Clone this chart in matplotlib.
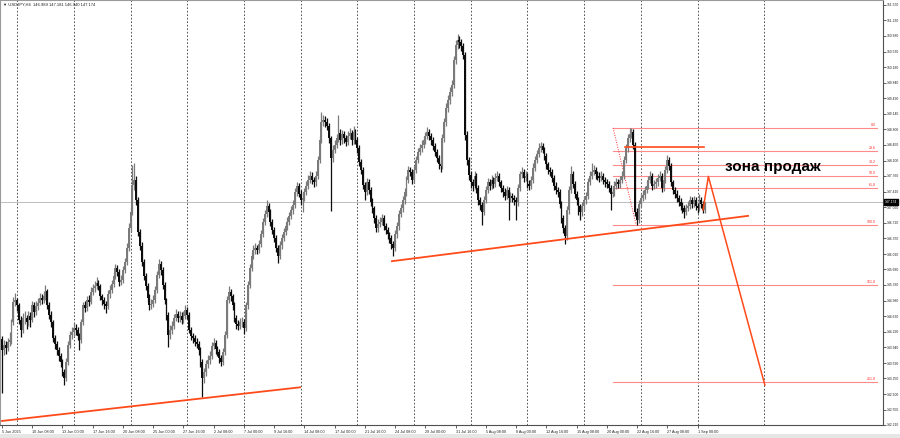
import matplotlib
matplotlib.use("Agg")
import matplotlib.pyplot as plt
import matplotlib.transforms as mtransforms
from matplotlib.patches import Rectangle
import numpy as np

# ---------------- data ----------------
header_text = "\u25bc USDJPY,H4  146.989 147.181 146.940 147.174"
first_open = 144.12

closes = [
    143.88,143.99,143.92,144.06,144.10,144.50,144.95,144.99,144.88,144.55,144.33,144.59,144.59,144.50,144.64,144.55,
    144.88,144.73,144.86,144.93,145.04,144.99,145.08,145.19,144.88,144.66,144.50,144.14,144.01,143.88,143.75,143.61,
    143.39,143.25,143.61,143.99,144.21,144.28,144.37,144.33,144.19,144.10,144.50,144.88,144.81,144.99,144.95,145.17,
    145.26,145.31,145.37,145.31,145.08,144.99,144.90,144.86,145.13,145.22,145.35,145.53,145.71,145.62,145.39,
    145.44,145.66,145.84,146.15,146.60,146.95,147.56,147.67,147.22,146.51,146.20,145.84,145.53,145.31,145.04,144.88,
    144.90,144.99,145.22,145.55,145.80,145.66,145.33,144.99,144.66,144.21,144.33,144.41,144.59,144.68,144.59,144.64,
    144.55,144.64,144.77,144.66,144.33,144.19,144.14,144.06,144.01,143.88,143.61,143.25,143.39,143.57,143.66,143.75,
    143.97,144.03,143.90,143.84,143.70,143.61,143.84,144.21,144.99,145.17,145.08,144.88,144.59,144.46,144.41,144.50,
    144.50,144.37,144.88,145.33,145.71,145.97,146.11,146.15,146.11,146.24,146.46,146.73,146.91,147.09,146.95,146.73,
    146.55,146.37,146.15,145.97,146.22,146.37,146.51,146.64,146.73,146.87,147.00,147.11,147.40,147.54,147.36,147.22,
    147.27,147.40,147.54,147.67,147.76,147.67,147.62,147.76,148.11,148.56,148.96,149.01,148.96,148.87,148.60,148.16,
    148.34,148.45,148.60,148.72,148.56,148.69,148.60,148.51,148.65,148.72,148.56,148.74,148.56,148.38,148.07,
    147.89,147.56,147.40,147.62,147.45,147.18,147.04,146.82,146.60,146.69,146.73,146.82,146.64,146.55,146.46,146.37,
    146.24,146.15,146.46,146.64,146.91,147.04,147.22,147.40,147.67,147.89,147.85,147.67,147.89,148.11,148.29,148.38,
    148.45,148.56,148.65,148.74,148.65,148.56,148.43,148.29,148.16,148.02,147.98,148.60,148.96,149.27,149.45,149.63,
    149.79,150.34,150.68,150.79,150.74,150.65,150.45,148.67,148.11,147.78,147.62,147.54,147.76,147.49,147.22,147.11,
    146.95,147.22,147.45,147.62,147.54,147.67,147.58,147.71,147.76,147.62,147.49,147.40,147.31,147.45,147.27,147.31,
    147.27,147.22,147.18,147.49,147.80,147.85,147.71,147.76,147.58,147.54,147.67,147.94,148.11,148.25,148.38,148.43,
    148.34,148.20,148.02,147.89,147.85,147.71,147.54,147.45,147.40,147.13,146.82,146.60,146.42,147.00,147.45,147.80,
    147.58,147.36,147.22,147.09,146.95,147.09,147.22,147.31,147.62,147.76,147.85,147.89,147.80,147.76,147.71,
    147.76,147.67,147.62,147.58,147.49,147.36,147.40,147.54,147.62,147.58,147.67,147.76,148.11,148.38,148.60,148.69,
    148.74,148.45,146.95,146.78,147.13,147.27,147.33,147.45,147.54,147.67,147.76,147.54,147.58,147.62,147.71,147.76,
    147.49,147.67,147.89,148.11,147.98,147.62,147.45,147.36,147.27,147.18,147.09,147.04,146.95,147.04,147.09,147.22,
    147.13,147.22,147.09,147.04,147.22,147.13,146.99,147.174,
]

highs = [
    144.19,144.10,144.08,144.15,144.28,144.58,145.06,145.15,145.05,144.93,144.64,144.70,144.75,144.66,144.76,144.72,
    144.97,144.95,144.98,145.04,145.15,145.12,145.20,145.33,145.25,144.94,144.74,144.56,144.22,144.08,143.95,143.82,
    143.68,143.46,143.70,144.08,144.30,144.40,144.48,144.45,144.40,144.26,144.58,144.96,144.97,145.08,145.10,145.28,
    145.36,145.42,145.50,145.44,145.36,145.14,145.06,144.98,145.22,145.33,145.44,145.62,145.80,145.78,145.68,
    145.56,145.75,145.94,146.26,146.70,147.06,148.01,148.05,147.75,147.28,146.58,146.28,145.92,145.60,145.38,145.12,
    145.02,145.10,145.30,145.64,145.91,145.86,145.72,145.40,145.05,144.72,144.44,144.52,144.68,144.80,144.76,144.74,
    144.72,144.75,144.88,144.84,144.72,144.40,144.27,144.22,144.14,144.08,143.94,143.68,143.48,143.66,143.76,143.86,
    144.06,144.14,144.10,143.98,143.90,143.77,143.93,144.30,145.08,145.30,145.24,145.14,144.95,144.66,144.54,144.60,
    144.62,144.58,144.96,145.42,145.80,146.06,146.22,146.26,146.22,146.34,146.55,146.82,147.00,147.22,147.16,147.02,
    146.80,146.62,146.44,146.22,146.30,146.46,146.60,146.73,146.84,146.96,147.10,147.22,147.50,147.62,147.60,147.44,
    147.38,147.50,147.64,147.78,147.88,147.84,147.74,147.86,148.20,148.66,149.18,149.12,149.10,149.04,148.94,148.66,
    148.44,148.55,148.70,149.12,148.80,148.78,148.76,148.68,148.75,148.82,148.78,148.87,148.80,148.62,148.44,
    148.14,147.95,147.62,147.72,147.70,147.52,147.26,147.10,146.88,146.80,146.84,146.92,146.88,146.70,146.62,146.52,
    146.44,146.30,146.55,146.74,147.00,147.14,147.32,147.50,147.76,147.98,147.96,147.92,147.98,148.20,148.38,148.48,
    148.56,148.66,148.74,148.85,148.80,148.72,148.62,148.50,148.36,148.22,148.10,148.70,149.06,149.38,149.56,149.74,
    149.90,150.44,150.78,150.92,150.88,150.82,150.72,150.52,148.76,148.18,147.86,147.70,147.86,147.82,147.56,147.30,
    147.18,147.32,147.54,147.72,147.70,147.78,147.74,147.82,147.88,147.82,147.68,147.56,147.48,147.54,147.52,147.40,
    147.38,147.34,147.30,147.58,147.88,147.96,147.92,147.86,147.82,147.66,147.76,148.04,148.20,148.34,148.49,148.52,
    148.50,148.40,148.26,148.08,147.96,147.92,147.78,147.62,147.52,147.46,147.20,146.88,146.66,147.08,147.54,147.98,
    147.86,147.64,147.42,147.28,147.14,147.18,147.32,147.40,147.72,147.86,148.05,148.00,147.96,147.88,147.84,
    147.86,147.82,147.74,147.70,147.64,147.56,147.50,147.64,147.72,147.70,147.76,147.86,148.20,148.48,148.70,148.83,
    148.82,148.80,148.52,147.04,147.22,147.36,147.44,147.54,147.64,147.76,147.88,147.82,147.68,147.72,147.80,147.86,
    147.82,147.76,147.98,148.22,148.18,148.04,147.68,147.52,147.44,147.34,147.26,147.18,147.12,147.14,147.20,147.32,
    147.30,147.32,147.28,147.16,147.36,147.28,147.20,147.181,
]

lows = [
    142.92,143.77,143.80,143.85,143.98,144.02,144.44,144.86,144.76,144.46,144.18,144.26,144.45,144.36,144.42,144.40,
    144.50,144.62,144.66,144.78,144.88,144.90,144.92,145.00,144.80,144.57,144.40,144.05,143.90,143.78,143.64,143.50,
    143.30,143.10,143.18,143.55,143.92,144.12,144.20,144.22,144.10,143.88,144.04,144.44,144.72,144.74,144.86,144.90,
    145.10,145.18,145.24,145.22,145.00,144.88,144.80,144.70,144.80,145.05,145.16,145.28,145.46,145.52,145.30,
    145.32,145.38,145.60,145.78,146.08,146.52,146.88,147.45,147.12,146.42,146.10,145.75,145.44,145.22,144.95,144.78,
    144.80,144.84,144.92,145.15,145.48,145.56,145.25,144.90,144.56,143.94,144.12,144.24,144.34,144.52,144.50,144.50,
    144.46,144.48,144.58,144.58,144.25,144.10,144.04,143.96,143.92,143.78,143.50,142.83,143.14,143.30,143.48,143.58,
    143.68,143.90,143.80,143.74,143.60,143.52,143.55,143.78,144.14,144.92,144.98,144.78,144.50,144.36,144.32,144.34,
    144.40,144.24,144.30,144.80,145.26,145.64,145.90,146.02,146.02,146.04,146.18,146.40,146.66,146.84,146.86,146.64,
    146.46,146.28,146.06,145.82,145.90,146.14,146.30,146.44,146.56,146.66,146.80,146.92,147.04,147.32,147.28,147.12,
    146.95,147.20,147.34,147.46,147.60,147.58,147.52,147.54,147.70,148.04,148.50,148.88,148.86,148.78,148.50,146.98,
    148.08,148.26,148.38,148.52,148.46,148.48,148.50,148.42,148.44,148.58,148.46,148.48,148.48,148.28,147.98,
    147.80,147.46,147.22,147.33,147.36,147.08,146.94,146.72,146.50,146.52,146.62,146.66,146.55,146.46,146.36,146.26,
    146.14,145.97,146.08,146.38,146.56,146.84,146.96,147.14,147.32,147.60,147.76,147.58,147.60,147.82,148.04,148.22,
    148.30,148.38,148.48,148.58,148.56,148.46,148.34,148.20,148.06,147.92,147.85,147.92,148.52,148.88,149.18,149.36,
    149.55,149.72,150.26,150.58,150.62,150.54,150.36,148.56,148.00,147.66,147.50,147.42,147.46,147.38,147.12,147.00,
    146.67,146.88,147.16,147.38,147.44,147.46,147.50,147.52,147.64,147.54,147.40,147.30,147.22,147.24,146.78,147.18,
    147.18,147.12,146.78,147.10,147.42,147.72,147.62,147.64,147.48,147.44,147.46,147.60,147.86,148.04,148.18,148.30,
    148.26,148.12,147.92,147.80,147.76,147.62,147.44,147.36,147.30,147.04,146.72,146.48,146.24,146.34,146.92,147.38,
    147.50,147.26,147.12,146.89,146.78,146.86,147.00,147.14,147.24,147.56,147.70,147.78,147.70,147.66,147.62,
    147.64,147.58,147.52,147.48,147.40,147.00,147.28,147.32,147.46,147.48,147.50,147.60,147.70,148.04,148.30,148.52,
    148.60,148.36,146.86,146.67,146.72,147.06,147.20,147.24,147.38,147.46,147.60,147.44,147.46,147.50,147.54,147.64,
    147.40,147.42,147.60,147.82,147.90,147.54,147.36,147.26,147.18,147.08,147.00,146.94,146.82,146.88,146.98,147.02,
    147.04,147.06,147.00,146.94,146.98,147.04,146.94,146.94,
]

x_labels = ["5 Jun 2025", "10 Jun 08:00", "13 Jun 00:00", "17 Jun 16:00", "20 Jun 08:00",
            "25 Jun 00:00", "27 Jun 16:00", "2 Jul 08:00", "7 Jul 00:00", "9 Jul 16:00",
            "14 Jul 08:00", "17 Jul 00:00", "21 Jul 16:00", "24 Jul 08:00", "29 Jul 00:00",
            "31 Jul 16:00", "5 Aug 08:00", "8 Aug 00:00", "12 Aug 16:00", "15 Aug 08:00",
            "20 Aug 00:00", "22 Aug 16:00", "27 Aug 08:00", "1 Sep 00:00"]
x_label_bars = [0, 16, 32, 48, 64, 80, 96, 112, 128, 144, 160, 176, 192, 208, 224,
                240, 256, 272, 288, 304, 320, 336, 352, 368]

y_ticks = [151.570, 151.230, 150.880, 150.530, 150.180, 149.840, 149.490, 149.140,
           148.800, 148.450, 148.100, 147.760, 147.410, 147.060, 146.720, 146.370,
           146.020, 145.680, 145.330, 144.980, 144.630, 144.290, 143.940, 143.590,
           143.250, 142.900, 142.550, 142.210]

separator_bars = [8, 38, 68, 98, 128, 158, 188, 218, 248, 278, 308, 338, 368, 403]

current_price = 147.174

fib_price_0 = 148.83
fib_price_100 = 146.67
fib_levels = [0.0, 23.6, 38.2, 50.0, 61.8, 100.0, 161.8, 261.8]
fib_bar_start = 323.3
fib_bar_end = 463.0
fib_anchor_bars = [323.3, 335.5]

trend1_bars = [0.0, 157.7]
trend1_prices = [142.30, 143.05]
trend2_bars = [206.3, 394.7]
trend2_prices = [145.86, 146.87]
zone_bars = [329.6, 371.4]
zone_prices = [148.41, 148.41]
proj_bars = [370.9, 373.7, 403.6]
proj_prices = [147.00, 147.75, 143.10]

sell_text = "зона продаж"
sell_bar = 408.0
sell_price = 147.96

# ---------------- drawing ----------------
plt.rcParams['font.family'] = ['Liberation Sans', 'DejaVu Sans']

fig = plt.figure(figsize=(9.0, 4.38), dpi=100)
fig.patch.set_facecolor('white')
ax = fig.add_axes([0.0, 13 / 438, 883 / 900, 425 / 438])
ax.set_facecolor('white')

c = np.array(closes)
h = np.array(highs)
l = np.array(lows)
o = np.concatenate([[first_open], c[:-1]])
idx = np.arange(len(c))
bull = c >= o
col = np.where(bull, '#7a7a7a', '#0d0d0d')

# separators
for sb in separator_bars:
    ax.axvline(sb, color='#3a3a3a', lw=0.6, ls=(0, (2, 2.2)), zorder=1)

# current price line
ax.axhline(current_price, color='#bdbdbd', lw=0.7, zorder=1)

# candles
ax.vlines(idx, l, h, colors=col, lw=0.9, zorder=3)
ax.bar(idx, np.abs(c - o), bottom=np.minimum(o, c), width=1.0, color=col,
       edgecolor='none', zorder=4)

# fibonacci
rng = fib_price_0 - fib_price_100
for lv in fib_levels:
    p = fib_price_0 - rng * lv / 100.0
    ax.plot([fib_bar_start, fib_bar_end], [p, p], color='#ff8a8a', lw=0.8, zorder=2)
    ax.text(fib_bar_end - 0.5, p + 0.02, f"{lv:.1f}", ha='right', va='bottom',
            fontsize=2.6, color='#ff2a2a', zorder=5)
ax.plot(fib_anchor_bars, [fib_price_0, fib_price_100], color='#ff3030', lw=0.7,
        ls=(0, (1, 1.5)), zorder=2)

# trend lines and projection
orange = '#ff4a1a'
ax.plot(trend1_bars, trend1_prices, color=orange, lw=1.3, zorder=5)
ax.plot(trend2_bars, trend2_prices, color=orange, lw=1.3, zorder=5)
ax.plot(zone_bars, zone_prices, color=orange, lw=1.2, zorder=5)
ax.plot(proj_bars, proj_prices, color=orange, lw=1.1, zorder=5)

ax.text(sell_bar, sell_price, sell_text, ha='center', va='center', fontsize=11,
        fontweight='bold', color='black', zorder=6)

# axes
ax.set_xlim(-1.06, 466.1)
ax.set_ylim(142.21, 151.68)
for sp in ['top', 'left']:
    ax.spines[sp].set_color('#9a9a9a')
    ax.spines[sp].set_linewidth(0.8)
for sp in ['right', 'bottom']:
    ax.spines[sp].set_color('#505050')
    ax.spines[sp].set_linewidth(0.8)

ax.yaxis.tick_right()
ax.set_yticks(y_ticks)
ax.set_yticklabels([f"{v:.3f}" for v in y_ticks])
ax.tick_params(axis='y', length=2, width=0.5, pad=1.0, labelsize=2.45, colors='#202020')

ax.set_xticks(x_label_bars)
ax.set_xticklabels(x_labels)
for t in ax.get_xticklabels():
    t.set_ha('left')
ax.tick_params(axis='x', length=2, width=0.5, pad=1.5, labelsize=2.7, colors='#202020')

# current price tag
trans = mtransforms.blended_transform_factory(ax.transAxes, ax.transData)
ax.text(1.002, current_price, f"{current_price:.3f}", transform=trans, ha='left',
        va='center', fontsize=2.45, color='white', clip_on=False, zorder=10,
        bbox=dict(facecolor='black', edgecolor='black', pad=0.6))

# header
fig.text(3 / 900, 1 - 5 / 438, header_text, fontsize=3.0, ha='left', va='center',
         color='#202020')

# bottom strip
fig.patches.append(Rectangle((0, 0), 1, 4 / 438, transform=fig.transFigure,
                             facecolor='#e6e6e6', edgecolor='none'))

fig.savefig('out.png', dpi=100)
